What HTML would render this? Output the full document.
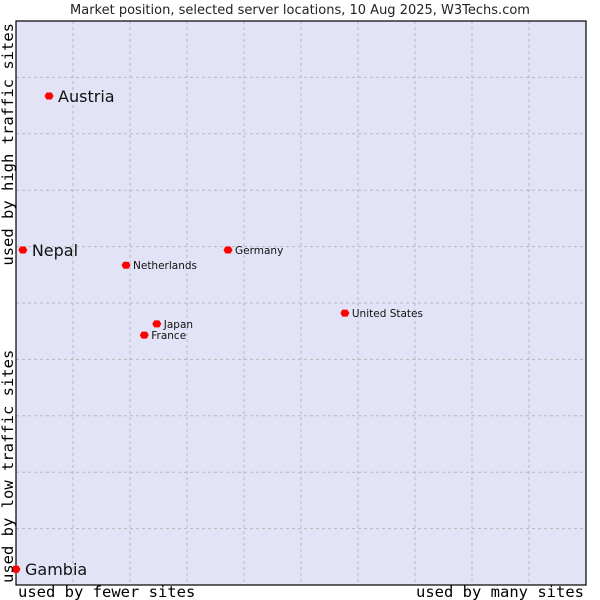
<!DOCTYPE html>
<html><head><meta charset="utf-8"><style>
body{margin:0;background:#fff;width:600px;height:600px;overflow:hidden}
svg{display:block}
</style></head><body>
<svg id="chart" width="600" height="600" xmlns="http://www.w3.org/2000/svg">
<text x="300" y="14" text-anchor="middle" font-family="DejaVu Sans, sans-serif" font-size="13" fill="#222">Market position, selected server locations, 10 Aug 2025, W3Techs.com</text>
<rect x="16" y="21" width="570" height="564" fill="#e3e3f7"/>
<g id="grid"></g>
<rect x="16" y="21" width="570" height="564" fill="none" stroke="#000" stroke-width="1.2"/>
<g id="points"></g>
<text x="18" y="597" font-family="DejaVu Sans Mono, monospace" font-size="15.5" fill="#000">used by fewer sites</text>
<text x="584" y="597" text-anchor="end" font-family="DejaVu Sans Mono, monospace" font-size="15.5" fill="#000">used by many sites</text>
<text transform="translate(13,583) rotate(-90)" font-family="DejaVu Sans Mono, monospace" font-size="15.5" fill="#000">used by low traffic sites</text>
<text transform="translate(13,23) rotate(-90)" text-anchor="end" font-family="DejaVu Sans Mono, monospace" font-size="15.5" fill="#000">used by high traffic sites</text>
</svg>
<script>
const names=["Austria","Nepal","Gambia","Netherlands","Germany","Japan","France","United States"];
const xValues=[5.8,1.2,0,19.3,37.2,24.7,22.5,57.7];
const yValues=[86.7,59.4,2.8,56.7,59.4,46.3,44.3,48.2];
const highlighted=[true,true,true,false,false,false,false,false];
const L=16,R=586,T=21,B=585;
const sx=v=>L+v/100*(R-L), sy=v=>B-v/100*(B-T);
const NS="http://www.w3.org/2000/svg";
const grid=document.getElementById('grid');
for(let i=1;i<10;i++){
  const vx=document.createElementNS(NS,'line');
  
  
  vx.setAttribute('x1',sx(i*10));vx.setAttribute('x2',sx(i*10));vx.setAttribute('y1',T);vx.setAttribute('y2',B);
  vx.setAttribute('stroke','#b8b8b8');vx.setAttribute('stroke-dasharray','3,3');
  grid.appendChild(vx);
  const hy=document.createElementNS(NS,'line');
  
  
  hy.setAttribute('y1',sy(i*10));hy.setAttribute('y2',sy(i*10));hy.setAttribute('x1',L);hy.setAttribute('x2',R);
  hy.setAttribute('stroke','#b8b8b8');hy.setAttribute('stroke-dasharray','3,3');
  grid.appendChild(hy);
}
const pts=document.getElementById('points');
names.forEach((n,i)=>{
  const x=sx(xValues[i]),y=sy(yValues[i]);
  const d=document.createElementNS(NS,'path');
  
  
  d.setAttribute('d',`M${x-4.5},${y} L${x-2.5},${y-3.5} L${x+2.5},${y-3.5} L${x+4.5},${y} L${x+2.5},${y+3.5} L${x-2.5},${y+3.5}Z`);
  d.setAttribute('fill','#ff0000');
  pts.appendChild(d);
  const t=document.createElementNS(NS,'text');
  
  
  const big=highlighted[i];
  t.setAttribute('x',x+(big?9:7));
  t.setAttribute('y',y+(big?6:4));
  t.setAttribute('font-family','DejaVu Sans, sans-serif');
  t.setAttribute('font-size',big?16:10.5);
  t.setAttribute('fill','#111');
  t.textContent=n;
  pts.appendChild(t);
});
</script>
</body></html>
